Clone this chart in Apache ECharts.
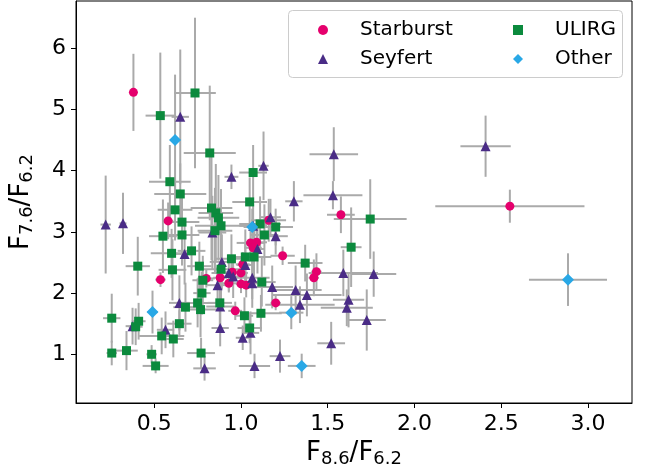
<!DOCTYPE html>
<html>
<head>
    <meta charset="utf-8">
    <title>F7.6/F6.2 vs F8.6/F6.2</title>
    <script src="https://cdn.jsdelivr.net/npm/echarts@6/dist/echarts.min.js"></script>
    <style>
        body { margin: 0; background: #fff; }
    </style>
</head>
<body>
<div id="main" style="width: 649px;height:474px;"></div>

<script type="text/javascript">
    // values: x, y, x error, y error per class
    var sbX  = [0.38, 0.58, 0.536, 1.16, 1.055, 1.09, 1.07, 1.24, 1.01, 0.80, 0.88, 0.93, 0.95, 1.00, 1.00, 1.03, 0.967, 1.20, 1.42, 1.435, 1.576, 2.55];
    var sbY  = [5.28, 3.18, 2.22, 3.19, 2.82, 2.83, 2.74, 2.61, 2.47, 2.24, 2.25, 2.16, 2.34, 2.33, 2.15, 2.13, 1.71, 1.84, 2.25, 2.35, 3.28, 3.42];
    var sbXe = [0.02, 0.03, 0.03, 0.10, 0.08, 0.06, 0.05, 0.07, 0.04, 0.05, 0.04, 0.05, 0.05, 0.04, 0.03, 0.04, 0.04, 0.03, 0.03, 0.03, 0.08, 0.43];
    var sbYe = [0.63, 0.30, 0.12, 0.35, 0.30, 0.25, 0.20, 0.15, 0.20, 0.15, 0.20, 0.15, 0.20, 0.15, 0.15, 0.20, 0.15, 0.12, 0.30, 0.30, 0.30, 0.27];

    var syX  = [0.22, 0.32, 0.65, 0.945, 1.13, 1.305, 1.535, 1.53, 2.41, 1.07, 1.17, 1.20, 0.835, 0.675, 0.89, 1.025, 1.095, 0.93, 0.955, 0.865, 1.065, 1.065, 1.18, 1.315, 1.38, 1.34, 0.645, 0.88, 0.375, 0.565, 0.88, 1.01, 1.055, 1.225, 1.078, 0.79, 1.52, 1.59, 1.765, 1.62, 1.61, 1.725];
    var syY  = [3.12, 3.14, 4.88, 3.90, 4.08, 3.50, 4.27, 3.60, 4.40, 3.10, 3.24, 2.93, 2.99, 2.64, 2.51, 2.46, 2.72, 2.33, 2.27, 2.13, 2.25, 2.16, 2.10, 2.05, 1.97, 1.81, 1.84, 1.78, 1.46, 1.40, 1.43, 1.27, 1.35, 0.97, 0.81, 0.77, 1.18, 2.33, 2.31, 1.89, 1.76, 1.56];
    var syXe = [0.03, 0.02, 0.05, 0.04, 0.03, 0.05, 0.14, 0.17, 0.145, 0.08, 0.06, 0.07, 0.08, 0.05, 0.07, 0.05, 0.04, 0.10, 0.08, 0.06, 0.10, 0.08, 0.12, 0.15, 0.20, 0.20, 0.06, 0.08, 0.04, 0.05, 0.05, 0.04, 0.05, 0.06, 0.09, 0.065, 0.08, 0.20, 0.13, 0.09, 0.15, 0.11];
    var syYe = [0.80, 0.50, 1.10, 0.20, 0.56, 0.33, 0.44, 0.23, 0.50, 0.35, 0.30, 0.30, 0.60, 0.50, 0.45, 0.35, 0.40, 0.30, 0.35, 0.30, 0.35, 0.40, 0.35, 0.40, 0.35, 0.30, 0.45, 0.40, 0.30, 0.30, 0.30, 0.20, 0.35, 0.27, 0.20, 0.20, 0.35, 0.38, 0.37, 0.45, 0.30, 0.50];

    var ulX  = [0.735, 0.535, 0.82, 1.07, 0.59, 0.65, 1.05, 0.62, 0.83, 0.855, 0.87, 0.66, 0.885, 0.85, 0.55, 0.66, 1.11, 1.135, 1.20, 0.60, 0.715, 0.405, 0.605, 0.76, 0.945, 0.885, 1.025, 1.075, 0.78, 1.12, 1.37, 0.775, 0.75, 0.878, 0.68, 0.767, 1.115, 1.02, 0.255, 0.41, 0.393, 0.645, 0.543, 0.61, 1.05, 0.255, 0.34, 0.485, 0.77, 0.508, 1.745, 1.635];
    var ulY  = [5.27, 4.90, 4.29, 3.97, 3.82, 3.62, 3.49, 3.36, 3.39, 3.31, 3.23, 3.16, 3.10, 3.02, 2.93, 2.95, 3.13, 2.95, 3.08, 2.65, 2.69, 2.44, 2.38, 2.44, 2.56, 2.39, 2.59, 2.59, 2.21, 2.18, 2.49, 2.00, 1.84, 1.84, 1.77, 1.73, 1.67, 1.63, 1.59, 1.54, 1.45, 1.50, 1.30, 1.25, 1.43, 1.02, 1.06, 1.00, 1.02, 0.81, 3.21, 2.75];
    var ulXe = [0.12, 0.085, 0.15, 0.08, 0.12, 0.15, 0.10, 0.10, 0.12, 0.10, 0.12, 0.10, 0.15, 0.10, 0.08, 0.10, 0.12, 0.08, 0.10, 0.12, 0.08, 0.07, 0.08, 0.07, 0.10, 0.12, 0.08, 0.10, 0.06, 0.08, 0.10, 0.05, 0.10, 0.07, 0.07, 0.10, 0.12, 0.05, 0.05, 0.04, 0.04, 0.07, 0.13, 0.06, 0.07, 0.03, 0.065, 0.03, 0.08, 0.075, 0.21, 0.06];
    var ulYe = [1.23, 1.03, 1.10, 0.45, 0.60, 0.50, 0.40, 0.50, 0.85, 0.80, 0.70, 0.45, 0.60, 0.70, 0.60, 0.50, 0.45, 0.50, 0.30, 0.40, 0.40, 0.48, 0.50, 0.40, 0.40, 0.50, 0.45, 0.50, 0.40, 0.40, 0.30, 0.35, 0.40, 0.45, 0.40, 0.45, 0.30, 0.30, 0.40, 0.30, 0.30, 0.22, 0.30, 0.30, 0.25, 0.20, 0.32, 0.15, 0.25, 0.12, 0.65, 0.65];

    var otX  = [0.62, 0.49, 1.29, 1.35, 2.885, 1.065];
    var otY  = [4.50, 1.69, 1.68, 0.81, 2.22, 3.08];
    var otXe = [0.03, 0.03, 0.07, 0.08, 0.225, 0.05];
    var otYe = [1.07, 0.35, 0.27, 0.20, 0.43, 0.30];

    var xTicks = [0.5, 1.0, 1.5, 2.0, 2.5, 3.0];
    var yTicks = [1, 2, 3, 4, 5, 6];

    var groups = [
        {name: 'Starburst', x: sbX, y: sbY, xe: sbXe, ye: sbYe, symbol: 'circle',   size: 9,  color: '#e5006d'},
        {name: 'Seyfert',   x: syX, y: syY, xe: syXe, ye: syYe, symbol: 'triangle', size: 10, color: '#4a2c86'},
        {name: 'ULIRG',     x: ulX, y: ulY, xe: ulXe, ye: ulYe, symbol: 'rect',     size: 9,  color: '#0b8a3d'},
        {name: 'Other',     x: otX, y: otY, xe: otXe, ye: otYe, symbol: 'diamond',  size: 12, color: '#29a8e6'}
    ];

    var myChart = echarts.init(document.getElementById('main'));

    var errData = [];
    var series = [];
    for (var g = 0; g < groups.length; g++) {
        var grp = groups[g];
        var pts = [];
        for (var i = 0; i < grp.x.length; i++) {
            pts.push([grp.x[i], grp.y[i]]);
            errData.push([grp.x[i], grp.y[i], grp.xe[i], grp.ye[i]]);
        }
        series.push({
            name: grp.name,
            type: 'scatter',
            symbol: grp.symbol,
            symbolSize: grp.size,
            itemStyle: {color: grp.color, opacity: 1},
            z: 3,
            data: pts
        });
    }

    function renderErr(params, api) {
        var x = api.value(0), y = api.value(1), xe = api.value(2), ye = api.value(3);
        var l = api.coord([x - xe, y]), r = api.coord([x + xe, y]);
        var t = api.coord([x, y + ye]), b = api.coord([x, y - ye]);
        var st = {stroke: '#aaaaaa', lineWidth: 2};
        return {
            type: 'group',
            children: [
                {type: 'line', shape: {x1: l[0], y1: l[1], x2: r[0], y2: r[1]}, style: st},
                {type: 'line', shape: {x1: t[0], y1: t[1], x2: b[0], y2: b[1]}, style: st}
            ]
        };
    }

    series.unshift({
        name: 'err',
        type: 'custom',
        renderItem: renderErr,
        encode: {x: 0, y: 1},
        z: 1,
        silent: true,
        data: errData
    });

    var font = 'DejaVu Sans';
    var legendText = {fontFamily: font, fontSize: 20, color: '#000', padding: [0, 0, 0, 27]};

    var option = {
        animation: false,
        backgroundColor: '#fff',
        grid: {left: 73, right: 17, top: 1, bottom: 71, show: true, borderColor: '#000', borderWidth: 1},
        legend: [
            {data: ['Starburst', 'Seyfert'], orient: 'vertical', left: 313, top: 15, itemWidth: 10, itemHeight: 10, itemGap: 9, textStyle: legendText, z: 20},
            {data: ['ULIRG', 'Other'], orient: 'vertical', left: 508, top: 15, itemWidth: 10, itemHeight: 10, itemGap: 9, textStyle: legendText, z: 20}
        ],
        graphic: [{
            type: 'rect', left: 288, top: 10, z: 15,
            shape: {width: 334, height: 67, r: 4},
            style: {fill: 'rgba(255,255,255,0.8)', stroke: '#cccccc', lineWidth: 1}
        }],
        xAxis: {
            type: 'value', min: 0.049, max: 3.254,
            splitLine: {show: false},
            axisLine: {show: true, lineStyle: {color: '#000'}},
            axisTick: {show: true, length: 5, customValues: xTicks, lineStyle: {color: '#000'}},
            axisLabel: {customValues: xTicks, margin: 10, fontFamily: font, fontSize: 22, color: '#000',
                formatter: function (v) { return v.toFixed(1); }},
            name: '{b|F}{s|8.6}{b|/F}{s|6.2}',
            nameLocation: 'middle', nameGap: 35,
            nameTextStyle: {
                rich: {
                    b: {fontFamily: font, fontSize: 26, color: '#000', lineHeight: 30},
                    s: {fontFamily: font, fontSize: 18, color: '#000', lineHeight: 14, verticalAlign: 'bottom'}
                }
            }
        },
        yAxis: {
            type: 'value', min: 0.204, max: 6.773,
            splitLine: {show: false},
            axisLine: {show: true, lineStyle: {color: '#000'}},
            axisTick: {show: true, length: 5, customValues: yTicks, lineStyle: {color: '#000'}},
            axisLabel: {customValues: yTicks, margin: 10, fontFamily: font, fontSize: 22, color: '#000'},
            name: '{b|F}{s|7.6}{b|/F}{s|6.2}',
            nameLocation: 'middle', nameGap: 40, nameRotate: 90,
            nameTextStyle: {
                rich: {
                    b: {fontFamily: font, fontSize: 26, color: '#000', lineHeight: 30},
                    s: {fontFamily: font, fontSize: 18, color: '#000', lineHeight: 14, verticalAlign: 'bottom'}
                }
            }
        },
        series: series
    };

    myChart.setOption(option);
</script>
</body>
</html>
